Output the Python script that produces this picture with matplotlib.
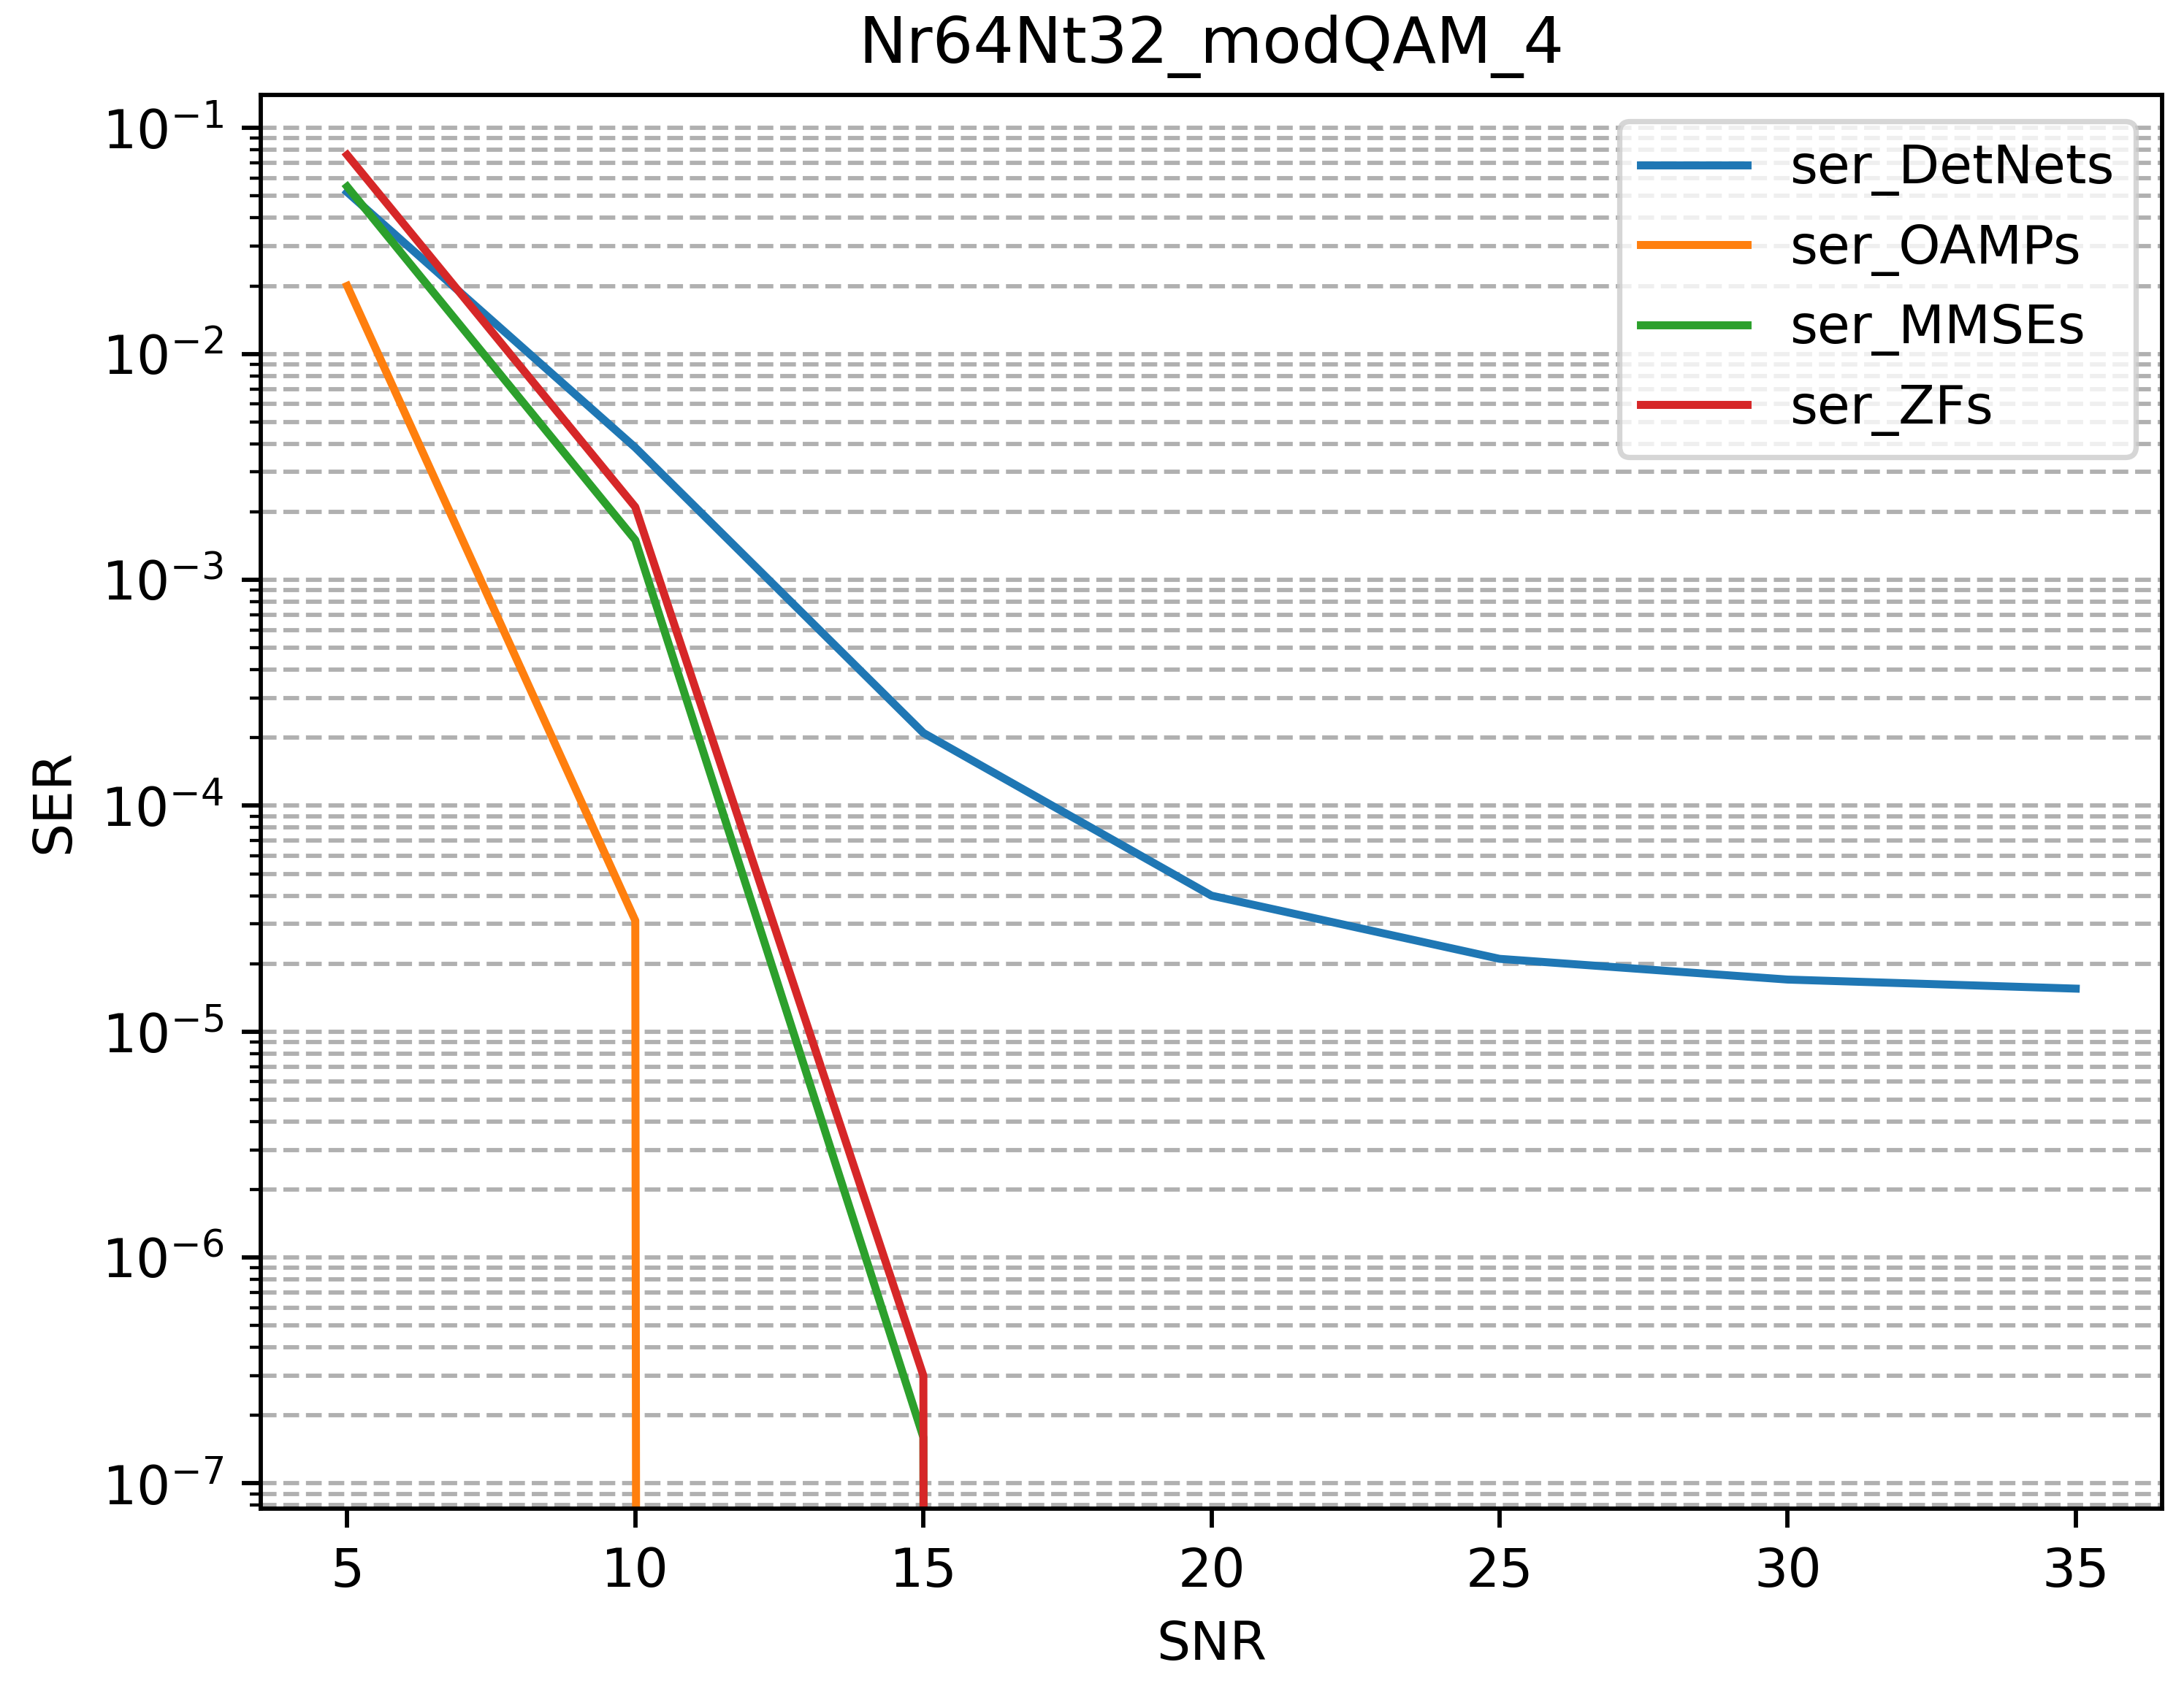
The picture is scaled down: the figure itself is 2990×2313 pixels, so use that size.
import numpy as np
import matplotlib
matplotlib.use('Agg')
import matplotlib.pyplot as plt

snr = [5, 10, 15, 20, 25, 30, 35]

# SER values; 0 means no errors (drops off the log axis)
ser_DetNets = [0.052, 3.85e-3, 2.1e-4, 4.0e-5, 2.1e-5, 1.7e-5, 1.55e-5]
ser_OAMPs = [0.020, 3.1e-5, 0, 0, 0, 0, 0]
ser_MMSEs = [0.055, 1.5e-3, 1.6e-7, 0, 0, 0, 0]
ser_ZFs = [0.076, 2.1e-3, 3.0e-7, 0, 0, 0, 0]

fig = plt.figure(figsize=(2990 / 525, 2313 / 525), dpi=525)
ax = fig.add_axes([0.1194, 0.107, 0.8706, 0.837])

ax.plot(snr, ser_DetNets, label='ser_DetNets')
ax.plot(snr, ser_OAMPs, label='ser_OAMPs')
ax.plot(snr, ser_MMSEs, label='ser_MMSEs')
ax.plot(snr, ser_ZFs, label='ser_ZFs')

ax.set_yscale('log', nonpositive='clip')
ax.set_xlim(3.5, 36.5)
ax.set_ylim(10 ** -7.11, 10 ** -0.852)
ax.grid(True, which='both', axis='y', linestyle='--')

ax.set_title('Nr64Nt32_modQAM_4')
ax.set_xlabel('SNR')
ax.set_ylabel('SER')
ax.legend(loc='upper right')

fig.savefig('out.png', dpi=525)
